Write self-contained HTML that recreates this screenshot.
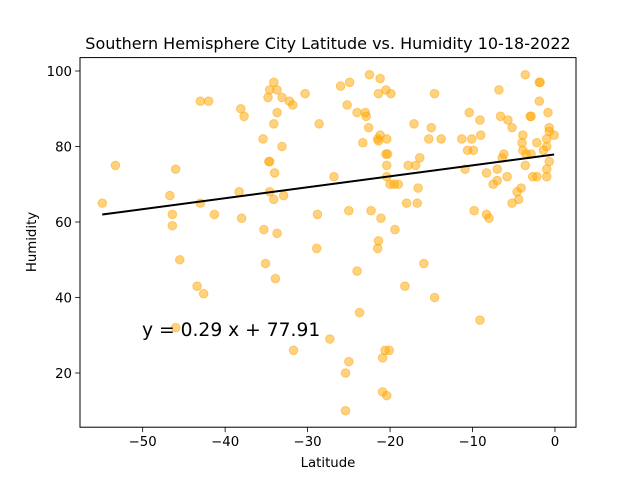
<!DOCTYPE html>
<html><head><meta charset="utf-8"><style>
body{margin:0;background:#fff}
svg{display:block;font-family:"DejaVu Sans","Liberation Sans",sans-serif}
</style></head><body>
<svg id="chart" width="640" height="480">
<rect width="640" height="480" fill="#fff"/>
<text x="328" y="49" text-anchor="middle" font-size="16">Southern Hemisphere City Latitude vs. Humidity 10-18-2022</text>
<g id="points"></g>
<g id="line"></g>
<g id="axes"></g>
<text x="328" y="467" text-anchor="middle" font-size="13.3">Latitude</text>
<text x="0" y="0" transform="translate(36,242) rotate(-90)" text-anchor="middle" font-size="13.3">Humidity</text>
<text x="142" y="336" font-size="18.7">y = 0.29 x + 77.91</text>
</svg>
<script>
const lats=[-54.9,-53.3,-46.7,-46.4,-46.4,-46.0,-45.5,-46,-43.4,-42.6,-43,-42,-41.3,-34.1,-34.6,-33.7,-34.8,-33.1,-32.2,-31.8,-30.3,-38.1,-37.7,-33.7,-34.1,-28.6,-35.4,-33.1,-34.7,-34.6,-34,-38.3,-34.6,-34.1,-32.9,-43,-38,-35.3,-33.7,-28.8,-28.9,-35.1,-33.9,-31.7,
-22.5,-21.2,-26,-24.9,-21.4,-20.5,-19.9,-25.2,-24,-23,-22.9,-22.6,-21.2,-21.5,-20.4,-23.3,-21.4,-20.5,-20.3,-20.4,-20.4,-20,-19.5,-19,-26.8,-17.8,-16.9,-16.4,-16.6,-18,-16.7,-17.1,-15,-14.6,-15.3,-13.8,-25,-22.3,-21.1,-19.4,-21.4,-21.5,-24,-15.9,-18.2,-14.6,-23.7,-9.1,-27.3,-20.6,-20.1,-20.9,-25,-25.4,-20.9,-20.4,-25.4,
-10.4,-9.1,-11.3,-10.1,-10.6,-9.9,-9,-10.9,-9.8,-8.3,-8,-8.3,-7.5,-7,-7,-6.4,-6.2,-5.8,-6.8,-6.6,-5.7,-5.2,-3.6,-1.9,-1.8,-1.9,-0.85,-3,-2.9,-0.7,-0.7,-0.1,-1,-3.9,-4,-2.2,-3.9,-3.5,-2.9,-1,-1.4,-3.6,-0.7,-1,-2.7,-2.2,-1,-4.1,-4.6,-4.4,-5.2];
const hums=[65,75,67,62,59,74,50,32,43,41,92,92,62,97,95,95,93,93,92,91,94,90,88,89,86,86,82,80,76,76,73,68,68,66,67,65,61,58,57,62,53,49,45,26,
99,98,96,97,94,95,94,91,89,89,88,85,83,82,82,81,81.5,78,78,75,72,70,70,70,72,75,75,77,69,65,65,86,85,94,82,82,63,63,61,58,55,53,47,49,43,40,36,34,29,26,26,24,23,20,15,14,10,
89,87,82,82,79,79,83,74,63,62,61,73,70,71,74,77,78,72,95,88,87,85,99,97,97,92,89,88,88,85,84,83,82,83,81,81,79,78,78,80,79,75,76,74,72,72,72,69,68,66,65];
const slope=[0.29];
const intercept=[77.91];
const xTicks=[-50,-40,-30,-20,-10,0];
const yTicks=[20,40,60,80,100];
const X0=80,X1=576,Y0=57.6,Y1=427.2;
const xMin=-57.6,xMax=2.55,yMin=5.64,yMax=103.55;
function sx(v){return X0+(v-xMin)/(xMax-xMin)*(X1-X0);}
function sy(v){return Y1-(v-yMin)/(yMax-yMin)*(Y1-Y0);}
const NS="http://www.w3.org/2000/svg";
function mk(t,a,p){const e=document.createElementNS(NS,t);for(const k in a)e.setAttribute(k,a[k]);p.appendChild(e);return e;}
const gp=document.getElementById('points');
for(let i=0;i<lats.length;i++){
 const c=mk('circle',{cx:sx(lats[i]),cy:sy(hums[i]),r:4.3,fill:'orange','fill-opacity':0.5,stroke:'orange','stroke-opacity':0.5,'stroke-width':1},gp);
 
 
}
const lmin=Math.min(...lats),lmax=Math.max(...lats);
const ln=mk('line',{x1:sx(lmin),y1:sy(slope[0]*lmin+intercept[0]),x2:sx(lmax),y2:sy(slope[0]*lmax+intercept[0]),stroke:'#000','stroke-width':2},document.getElementById('line'));


const ga=document.getElementById('axes');
const fr=mk('rect',{x:X0,y:Y0,width:X1-X0,height:Y1-Y0,fill:'none',stroke:'#000','stroke-width':1},ga);


xTicks.forEach(t=>{
 const x=sx(t);
 mk('line',{x1:x,y1:Y1,x2:x,y2:Y1+4.9,stroke:'#000','stroke-width':0.8},ga);
 const tx=mk('text',{x:x,y:Y1+19,'text-anchor':'middle','font-size':13.3},ga);
 tx.textContent=(t<0?'\u2212'+(-t):t);
 
 
});
yTicks.forEach(t=>{
 const y=sy(t);
 mk('line',{x1:X0-4.9,y1:y,x2:X0,y2:y,stroke:'#000','stroke-width':0.8},ga);
 const tx=mk('text',{x:X0-8,y:y+4.8,'text-anchor':'end','font-size':13.3},ga);
 tx.textContent=t;
 
 
});
</script>
</body></html>
